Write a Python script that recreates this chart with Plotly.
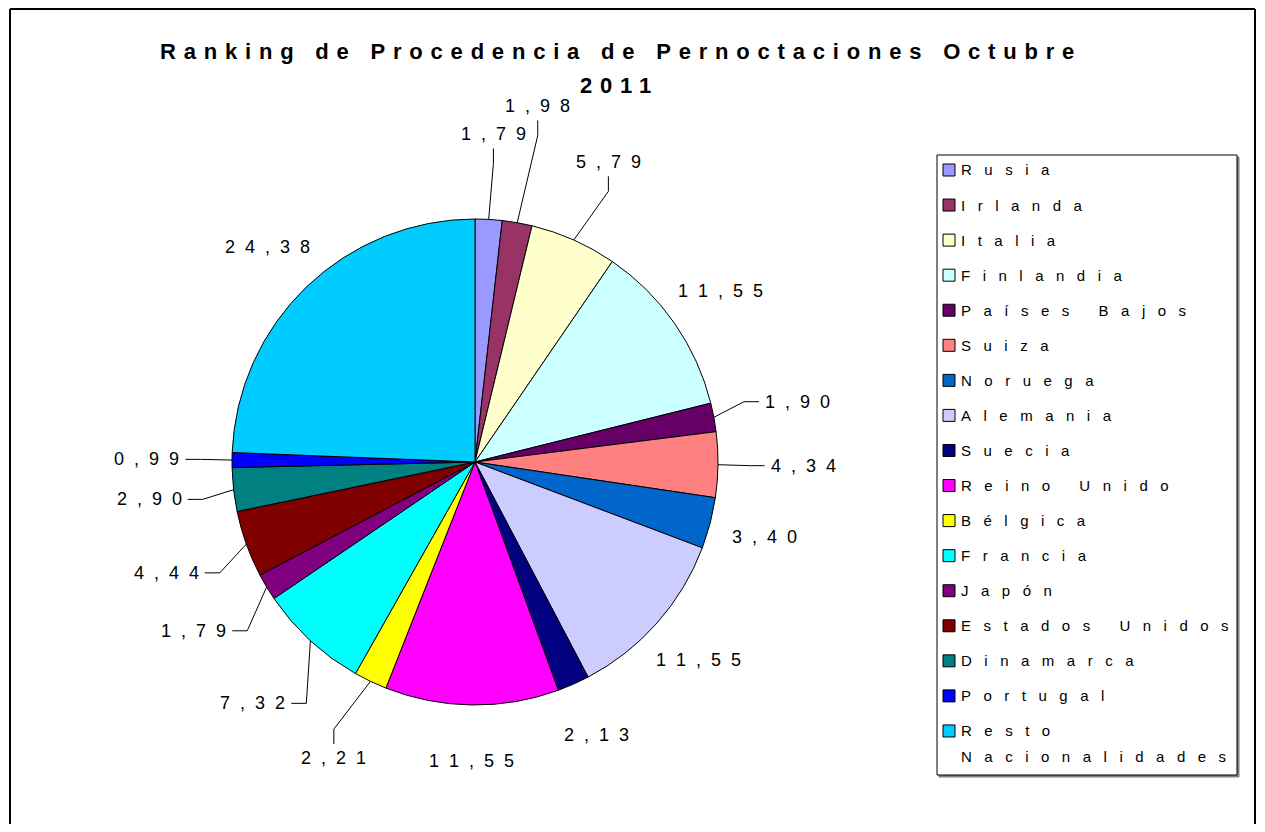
import math
import plotly.graph_objects as go

# ---------------- data ----------------
paises = ["Rusia", "Irlanda", "Italia", "Finlandia", "Países Bajos", "Suiza",
          "Noruega", "Alemania", "Suecia", "Reino Unido", "Bélgica", "Francia",
          "Japón", "Estados Unidos", "Dinamarca", "Portugal", "Resto Nacionalidades"]
porcentajes = [1.79, 1.98, 5.79, 11.55, 1.90, 4.34, 3.40, 11.55, 2.13, 11.55,
               2.21, 7.32, 1.79, 4.44, 2.90, 0.99, 24.38]
colores = ["#9999FF", "#993366", "#FFFFCC", "#CCFFFF", "#660066", "#FF8080",
           "#0066CC", "#CCCCFF", "#000080", "#FF00FF", "#FFFF00", "#00FFFF",
           "#800080", "#800000", "#008080", "#0000FF", "#00CCFF"]
titulo_1 = "Ranking de Procedencia de Pernoctaciones Octubre"
titulo_2 = "2011"

# ---------------- geometry / style ----------------
OFF = 8                      # page body margin
W, H = 1265 - 2 * OFF, 832 - 2 * OFF
CX, CY, R = 475, 462, 243    # in page pixels
NB = "\u00a0"
FONT = "Liberation Sans, Arial, sans-serif"
FS_LAB = 18
FS_LEG = 15


def espaciar(s, gap=3, wgap=7):
    return (NB * wgap).join((NB * gap).join(list(w)) for w in s.split(" "))


def ancho(s, fs):
    w = 0.0
    for ch in s:
        if ch.isdigit():
            w += 0.556
        elif ch in ",." + NB + " ":
            w += 0.278
        else:
            w += 0.56
    return w * fs


def px(x):
    return (x - OFF) / W


def py(y):
    return 1 - (y - OFF) / H


fig = go.Figure()
fig.add_trace(go.Pie(
    labels=paises, values=porcentajes, sort=False, direction="clockwise",
    rotation=0, marker=dict(colors=colores, line=dict(color="black", width=1)),
    textinfo="none", hoverinfo="label+value", showlegend=False,
    domain=dict(x=[px(CX - R), px(CX + R)], y=[py(CY + R), py(CY - R)]),
))

shapes = []
annotations = []

# outer frame (left, top, right edges)
for (xa, ya, xb, yb) in [(10, 9, 10, 832), (10, 9, 1255, 9), (1255, 9, 1255, 832)]:
    shapes.append(dict(type="line", xref="paper", yref="paper",
                       x0=px(xa), y0=py(ya), x1=px(xb), y1=py(yb),
                       line=dict(color="black", width=2), layer="below"))

# title
TFONT = dict(family="Liberation Sans, Arial, sans-serif", size=22, color="black",
             weight="bold")
annotations.append(dict(text='<span style="letter-spacing:7.8px">%s</span>' % titulo_1,
                        x=px(621), y=py(51),
                        xref="paper", yref="paper", showarrow=False,
                        xanchor="center", yanchor="middle", font=TFONT))
annotations.append(dict(text='<span style="letter-spacing:7.8px">%s</span>' % titulo_2,
                        x=px(619), y=py(85),
                        xref="paper", yref="paper", showarrow=False,
                        xanchor="center", yanchor="middle", font=TFONT))

# data labels with leader lines
total = sum(porcentajes)
cum = 0.0
placed = []
LH = 20
for i, v in enumerate(porcentajes):
    mid = (cum + v / 2) / total * 2 * math.pi
    cum += v
    ux, uy = math.sin(mid), -math.cos(mid)
    deg = math.degrees(mid)
    leader = v < 8 and not (100 < deg < 180)
    txt = espaciar(("%.2f" % v).replace(".", ","), 2, 4)
    w = ancho(txt, FS_LAB)
    rad = R * (1.35 if leader else 1.23)
    while True:
        tx, ty = CX + rad * ux, CY + rad * uy
        box = (tx - w / 2 - 3, tx + w / 2 + 3, ty - LH / 2 - 3, ty + LH / 2 + 3)
        if all(box[1] < b[0] or box[0] > b[1] or box[3] < b[2] or box[2] > b[3]
               for b in placed):
            break
        rad += 3
    placed.append(box)
    annotations.append(dict(text=txt, x=px(tx), y=py(ty), xref="paper", yref="paper",
                            showarrow=False, xanchor="center", yanchor="middle",
                            font=dict(family=FONT, size=FS_LAB, color="black")))
    if leader:
        ex, ey = CX + R * ux, CY + R * uy
        if abs(ux) >= 0.45:
            side = 1 if ux > 0 else -1
            c = (tx - side * (w / 2 + 6), ty)
            b = (c[0] - side * 15, ty)
        else:
            vert = 1 if uy > 0 else -1
            c = (tx, ty - vert * (LH / 2 + 4))
            b = (tx, c[1] - vert * 15)
        path = "M %f %f L %f %f L %f %f" % (px(ex), py(ey), px(b[0]), py(b[1]),
                                            px(c[0]), py(c[1]))
        shapes.append(dict(type="path", xref="paper", yref="paper", path=path,
                           line=dict(color="black", width=1)))

# legend box
LX0, LX1, LY0, LY1 = 937, 1237, 155, 775
shapes.append(dict(type="rect", xref="paper", yref="paper",
                   x0=px(LX0 + 2), x1=px(LX1 + 2), y0=py(LY1 + 2), y1=py(LY0 + 2),
                   line=dict(color="#808080", width=1), fillcolor="#808080"))
shapes.append(dict(type="rect", xref="paper", yref="paper",
                   x0=px(LX0), x1=px(LX1), y0=py(LY1), y1=py(LY0),
                   line=dict(color="black", width=1), fillcolor="white"))
ROW0, STEP = 170, 35.06
for i, (nombre, col) in enumerate(zip(paises, colores)):
    yc = ROW0 + i * STEP
    shapes.append(dict(type="rect", xref="paper", yref="paper",
                       x0=px(943), x1=px(955), y0=py(yc + 6), y1=py(yc - 6),
                       line=dict(color="black", width=1), fillcolor=col))
    txt = espaciar(nombre)
    lines = [txt]
    if ancho(txt, FS_LEG) > 300 and " " in nombre:
        lines = [espaciar(p) for p in nombre.split(" ", 1)]
    for k, ln in enumerate(lines):
        annotations.append(dict(text=ln, x=px(959), y=py(yc + k * 26), xref="paper",
                                yref="paper", showarrow=False, xanchor="left",
                                yanchor="middle",
                                font=dict(family=FONT, size=FS_LEG, color="black")))

fig.update_layout(width=W, height=H, margin=dict(l=0, r=0, t=0, b=0),
                  paper_bgcolor="white", plot_bgcolor="white",
                  shapes=shapes, annotations=annotations, showlegend=False)
fig.write_html("out.html")
